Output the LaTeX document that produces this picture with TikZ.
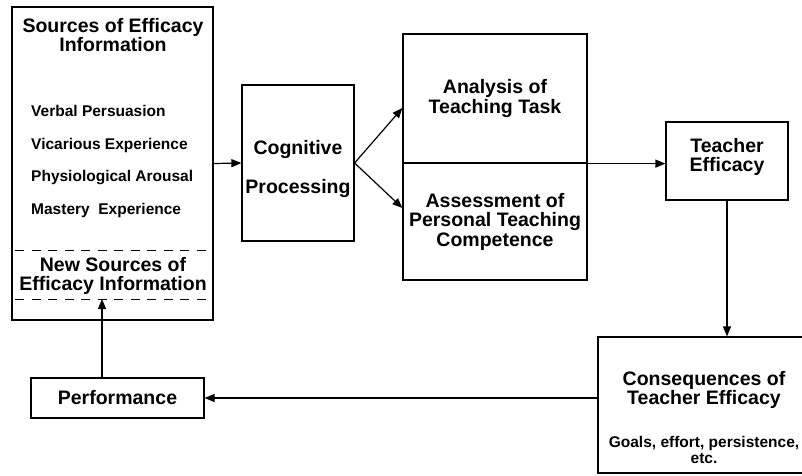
\documentclass[tikz,border=0pt]{standalone}
\usepackage{fontspec}
\setmainfont{Liberation Sans}
\usetikzlibrary{arrows.meta,calc,positioning}

\begin{document}
\begin{tikzpicture}[x=1pt,y=-1pt,
                    box/.style={draw, line width=1.2pt, inner sep=0pt},
                    head/.style={font=\fontsize{19.5}{19.5}\selectfont\bfseries, align=center, inner sep=0pt},
                    item/.style={font=\fontsize{15.5}{16}\selectfont\bfseries, anchor=base west, inner sep=0pt},
                    sep/.style={line width=0.9pt, dash pattern=on 9pt off 7.5pt, dash phase=-4pt},
                    conn/.style={line width=1.2pt, -{Triangle[length=10pt,width=8pt]}}]
                    \useasboundingbox (0,0) rectangle (802,475);
                    \clip (0,0) rectangle (802,475);
                    % sources
                    \node (srcbox) at (112.5,163.5) [box, minimum width=201pt, minimum height=313pt] {};
                    \node (srctitle) at (113,35) [head] {Sources of Efficacy\\Information};
                    \foreach \Item [count=\n] in {Verbal Persuasion, Vicarious Experience, Physiological Arousal, Mastery\ \ Experience}
                        \node (src-\n) at (31,83.5+32.8*\n) [item] {\Item};
                    \coordinate (upper) at (0,250);
                    \coordinate (lower) at (0,299);
                    \draw[sep] (srcbox.west |- upper) -- (srcbox.east |- upper);
                    \draw[sep] (srcbox.west |- lower) -- (srcbox.east |- lower);
                    \node (newsrc) at (113,276) [head] {New Sources of\\Efficacy Information};
                    % middle
                    \node (cog) at (298,163) [box, minimum width=112pt, minimum height=156pt] {};
                    \node (cog-text) at (298,169) [head] {Cognitive\\[19.5pt]Processing};
                    \node (analysis) at (495,98.5) [box, head, minimum width=184pt, minimum height=129pt] {Analysis of\\Teaching Task};
                    \node (assess) at (495,221.5) [box, head, minimum width=184pt, minimum height=117pt] {Assessment of\\Personal Teaching\\Competence};
                    % right and bottom
                    \node (teacher) at (727,161) [box, minimum width=122pt, minimum height=78pt] {};
                    \node (teacher-text) at (727,157) [head] {Teacher\\Efficacy};
                    \node (conseq) at (705,405) [box, minimum width=214pt, minimum height=136pt] {};
                    \node (conseq-head) at (704,390) [head] {Consequences of\\Teacher Efficacy};
                    \node (conseq-note) at (704,450) [head, font=\fontsize{15.5}{16}\selectfont\bfseries] {Goals, effort, persistence,\\etc.};
                    \node (perf) at (117.5,398) [box, head, minimum width=173pt, minimum height=40pt] {Performance};
                    \coordinate (a-in) at ([yshift=-9.5pt]analysis.west);
                    \coordinate (b-in) at ([yshift=13.5pt]assess.west);
                    \coordinate (t-in) at (analysis.south west -| teacher.west);
                    \coordinate (c-in) at (teacher.south |- conseq.north);
                    \coordinate (p-out) at (perf.east -| conseq.west);
                    \coordinate (p-up) at ([xshift=-15.5pt]perf.north);
                    \coordinate (n-in) at (p-up |- lower);
                    \foreach \Source/\Target in {%
                        srcbox.east/cog.west,
                        cog.east/a-in,
                        cog.east/b-in,
                        analysis.south west/t-in,
                        teacher.south/c-in,
                        p-out/perf.east,
                        p-up/n-in%
                        }
                        \draw[conn] (\Source) -- (\Target);
                \end{tikzpicture}
\end{document}
